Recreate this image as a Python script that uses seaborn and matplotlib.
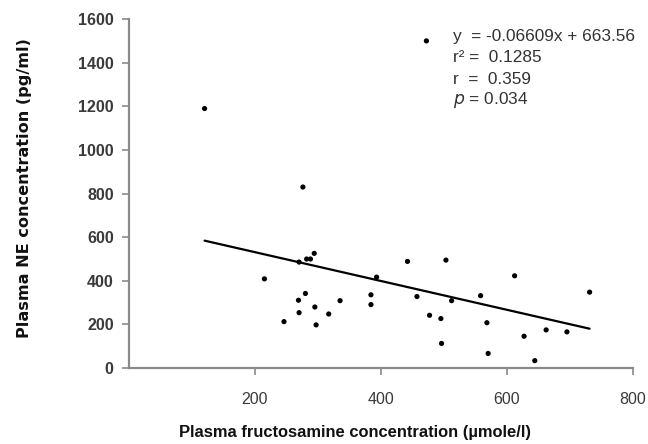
import matplotlib
matplotlib.use("Agg")
import matplotlib.pyplot as plt
import seaborn as sns
import numpy as np
import pandas as pd

# valores
fructosamine = [120, 276, 215, 270, 282, 288, 294, 280, 269, 270, 246, 295, 297, 317,
                335, 384, 384, 393, 442, 503, 457, 512, 477, 495, 496, 558, 568, 570,
                612, 627, 662, 695, 644, 731, 472]
ne_conc = [1190, 830, 409, 486, 500, 500, 526, 342, 311, 254, 213, 280, 198, 248,
           309, 336, 291, 417, 489, 495, 328, 309, 242, 227, 113, 332, 208, 67,
           423, 146, 175, 166, 34, 348, 1500]
slope = -0.6609
intercept = 663.56
x_ticks = [200, 400, 600, 800]
y_ticks = [0, 200, 400, 600, 800, 1000, 1200, 1400, 1600]

dados = pd.DataFrame({"fructosamine": fructosamine, "ne": ne_conc})
x_fit = np.array([min(fructosamine), max(fructosamine)])
linha = pd.DataFrame({"x": x_fit, "y": slope * x_fit + intercept})

sns.set_style("white")
plt.rcParams["font.family"] = ["Liberation Sans", "DejaVu Sans"]

fig = plt.figure(figsize=(6.48, 4.44), dpi=100)
ax = fig.add_axes([0.199, 0.171, 0.778, 0.786])

sns.scatterplot(data=dados, x="fructosamine", y="ne", color="black", s=14,
                edgecolor="none", ax=ax)
sns.lineplot(data=linha, x="x", y="y", color="black", linewidth=1.6, ax=ax)

ax.set_xlim(0, 800)
ax.set_ylim(0, 1600)
ax.set_xticks(x_ticks)
ax.set_yticks(y_ticks)
ax.set_yticklabels([str(v) for v in y_ticks], fontsize=11.5, fontweight="bold", color="#3a3a3a")
ax.set_xticklabels([str(v) for v in x_ticks], fontsize=11.5, color="#3a3a3a")
sns.despine(ax=ax)
for s in ["left", "bottom"]:
    ax.spines[s].set_color("#8a8a8a")
    ax.spines[s].set_linewidth(1.6)
ax.tick_params(axis="both", which="both", direction="out", length=5, width=1.2,
               color="#8a8a8a", left=True, bottom=True)
ax.tick_params(axis="x", pad=12)
ax.tick_params(axis="y", pad=6)

ax.set_xlabel("")
ax.set_ylabel("")
fig.text(355 / 648, 1 - 432 / 444, "Plasma fructosamine concentration (µmole/l)",
         fontsize=11.9, fontweight="bold", ha="center", va="center", color="#111111")
fig.text(25 / 648, 1 - 188 / 444, "Plasma NE concentration (pg/ml)", family="DejaVu Sans",
         fontsize=11.6, fontweight="bold", rotation=90, ha="center", va="center",
         color="#111111")

# texto da equação
tx = 453 / 648
kw = dict(fontsize=12.4, va="center", color="#333333")
fig.text(tx, 1 - 37 / 444, "y  = -0.06609x + 663.56", **kw)
fig.text(tx, 1 - 58 / 444, "r² =  0.1285", **kw)
fig.text(tx, 1 - 79 / 444, "r  =  0.359", **kw)
fig.text(tx, 1 - 100 / 444, "$\\it{p}$ = 0.034", **kw)

fig.savefig("out.png", dpi=100)
